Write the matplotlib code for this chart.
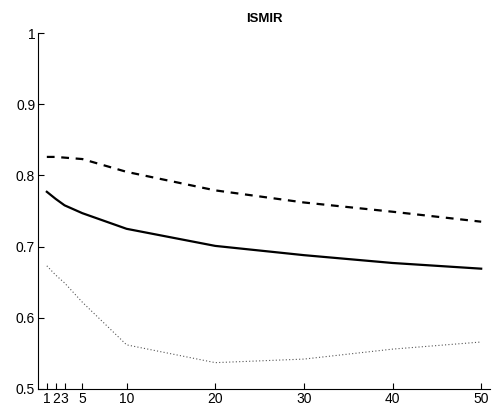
import matplotlib
matplotlib.use('Agg')
import matplotlib.pyplot as plt

plt.rcParams['font.family'] = ['Liberation Sans', 'DejaVu Sans']

k = [1, 2, 3, 5, 10, 20, 30, 40, 50]
plny = [0.777, 0.767, 0.758, 0.747, 0.725, 0.701, 0.688, 0.677, 0.669]
carkovany = [0.826, 0.826, 0.825, 0.823, 0.805, 0.779, 0.762, 0.749, 0.735]
bodkovany = [0.673, 0.660, 0.649, 0.622, 0.562, 0.537, 0.542, 0.556, 0.566]

fig = plt.figure(figsize=(4.93, 4.08), dpi=100)
ax = fig.add_axes([0.077, 0.0466, 0.917, 0.8724])

ax.plot(k, carkovany, color='black', linestyle=(0, (3.5, 3)), linewidth=1.6)
ax.plot(k, plny, color='black', linestyle='-', linewidth=1.6)
ax.plot(k, bodkovany, color='#555555', linestyle=(0, (1, 2)), linewidth=0.8)

ax.set_xlim(0, 51)
ax.set_ylim(0.5, 1)
ax.set_xticks(k)
ax.set_xticklabels([str(v) for v in k])
ax.set_yticks([0.5, 0.6, 0.7, 0.8, 0.9, 1])
ax.set_yticklabels(['0.5', '0.6', '0.7', '0.8', '0.9', '1'])
ax.spines['top'].set_visible(False)
ax.spines['right'].set_visible(False)
ax.tick_params(direction='in', length=4, labelsize=10, pad=2)
ax.set_title('ISMIR', fontsize=9.5, fontweight='bold', pad=8)

fig.savefig('out.png', dpi=100)
